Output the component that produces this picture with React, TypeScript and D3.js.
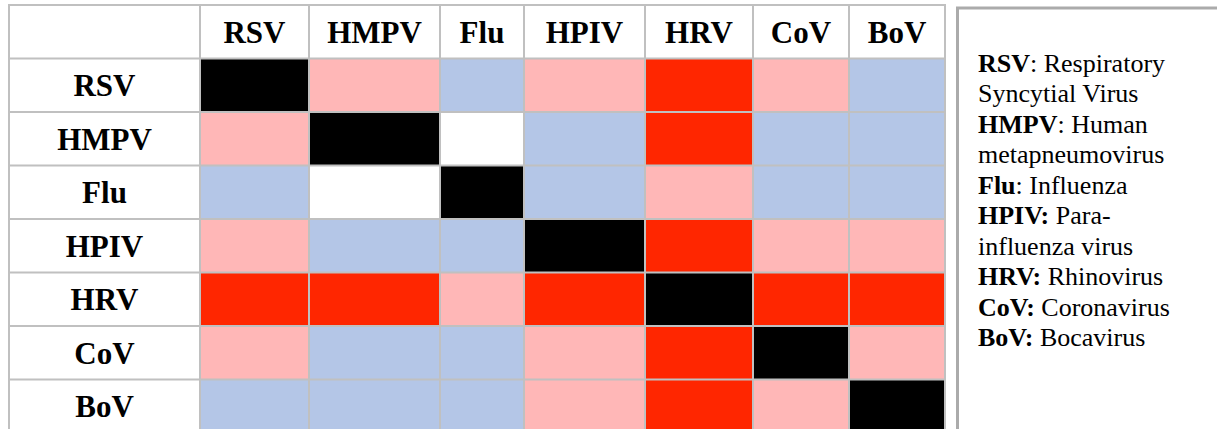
import React from "react";
import * as d3 from "d3";

// ---- data ----
const viruses = ["RSV", "HMPV", "Flu", "HPIV", "HRV", "CoV", "BoV"];
// association level for each pair (row, column)
const levels = ["self", "strong", "moderate", "weak", "none"];
const matrix: string[][] = [
  ["self", "moderate", "weak", "moderate", "strong", "moderate", "weak"],
  ["moderate", "self", "none", "weak", "strong", "weak", "weak"],
  ["weak", "none", "self", "weak", "moderate", "weak", "weak"],
  ["moderate", "weak", "weak", "self", "strong", "moderate", "moderate"],
  ["strong", "strong", "moderate", "strong", "self", "strong", "strong"],
  ["moderate", "weak", "weak", "moderate", "strong", "self", "moderate"],
  ["weak", "weak", "weak", "moderate", "strong", "moderate", "self"],
];
const legendLines: { bold: string; rest: string }[] = [
  { bold: "RSV", rest: ": Respiratory" },
  { bold: "", rest: "Syncytial Virus" },
  { bold: "HMPV", rest: ": Human" },
  { bold: "", rest: "metapneumovirus" },
  { bold: "Flu", rest: ": Influenza" },
  { bold: "HPIV:", rest: " Para-" },
  { bold: "", rest: "influenza virus" },
  { bold: "HRV:", rest: " Rhinovirus" },
  { bold: "CoV:", rest: " Coronavirus" },
  { bold: "BoV:", rest: " Bocavirus" },
];

// ---- layout ----
const W = 1217;
const H = 429;
const tableLeft = 9;
const tableTop = 5;
const labelColWidth = 191;
const colWidths = [109, 131, 84, 121, 108, 96, 96];
const rowH = 53.5;
const gridColor = "#c0c0c0";
const font = "'Liberation Serif', 'Times New Roman', serif";

const color = d3
  .scaleOrdinal<string, string>()
  .domain(levels)
  .range(["#000000", "#ff2600", "#ffb7b7", "#b4c6e7", "#ffffff"]);

export default function App() {
  const colStarts = [tableLeft + labelColWidth, ...Array.from(d3.cumsum(colWidths)).map((c) => tableLeft + labelColWidth + c)];
  const tableRight = colStarts[colStarts.length - 1];
  const x = d3.scaleOrdinal<string, number>().domain(viruses).range(colStarts.slice(0, viruses.length));
  const wOf = d3.scaleOrdinal<string, number>().domain(viruses).range(colWidths);
  const y = d3
    .scaleBand<string>()
    .domain(["__header", ...viruses])
    .range([tableTop, tableTop + rowH * (viruses.length + 1)])
    .paddingInner(0)
    .paddingOuter(0);
  const tableBottom = tableTop + rowH * (viruses.length + 1);

  const vLines = [tableLeft, ...colStarts];
  const hLines = [...y.domain().map((d) => y(d)!), tableBottom];

  const legendX = 978;
  const legendY0 = 71.5;
  const legendLH = 30.5;

  return (
    <svg
      width={W}
      height={H}
      style={{ position: "absolute", left: 0, top: 0, background: "#fff" }}
      fontFamily={font}
    >
      <rect x={0} y={0} width={W} height={H} fill="#fff" />
      {/* cells */}
      {viruses.map((r, i) =>
        viruses.map((c, j) => (
          <rect
            key={`${r}-${c}`}
            x={x(c)}
            y={y(r)}
            width={wOf(c)}
            height={y.bandwidth()}
            fill={color(matrix[i][j])}
          />
        ))
      )}
      {/* grid lines */}
      {vLines.map((v, i) => (
        <line key={`v${i}`} x1={v} x2={v} y1={tableTop - 1} y2={tableBottom + 1} stroke={gridColor} strokeWidth={2} />
      ))}
      {hLines.map((h, i) => (
        <line key={`h${i}`} x1={tableLeft - 1} x2={tableRight + 1} y1={h} y2={h} stroke={gridColor} strokeWidth={2} />
      ))}
      {/* column headers */}
      {viruses.map((c) => (
        <text
          key={`ch-${c}`}
          x={x(c)! + wOf(c) / 2}
          y={y("__header")! + y.bandwidth() / 2 + 11.5}
          textAnchor="middle"
          fontWeight="bold"
          fontSize={31}
          fill="#000"
        >
          {c}
        </text>
      ))}
      {/* row labels */}
      {viruses.map((r) => (
        <text
          key={`rh-${r}`}
          x={tableLeft + labelColWidth / 2}
          y={y(r)! + y.bandwidth() / 2 + 11}
          textAnchor="middle"
          fontWeight="bold"
          fontSize={31}
          fill="#000"
        >
          {r}
        </text>
      ))}
      {/* legend box */}
      <rect x={957.5} y={8} width={300} height={460} fill="none" stroke="#ababab" strokeWidth={3} />
      {legendLines.map((l, i) => (
        <text key={`lg${i}`} x={legendX} y={legendY0 + i * legendLH} fontSize={26} fill="#000">
          {l.bold && <tspan fontWeight="bold">{l.bold}</tspan>}
          <tspan>{l.rest}</tspan>
        </text>
      ))}
    </svg>
  );
}
